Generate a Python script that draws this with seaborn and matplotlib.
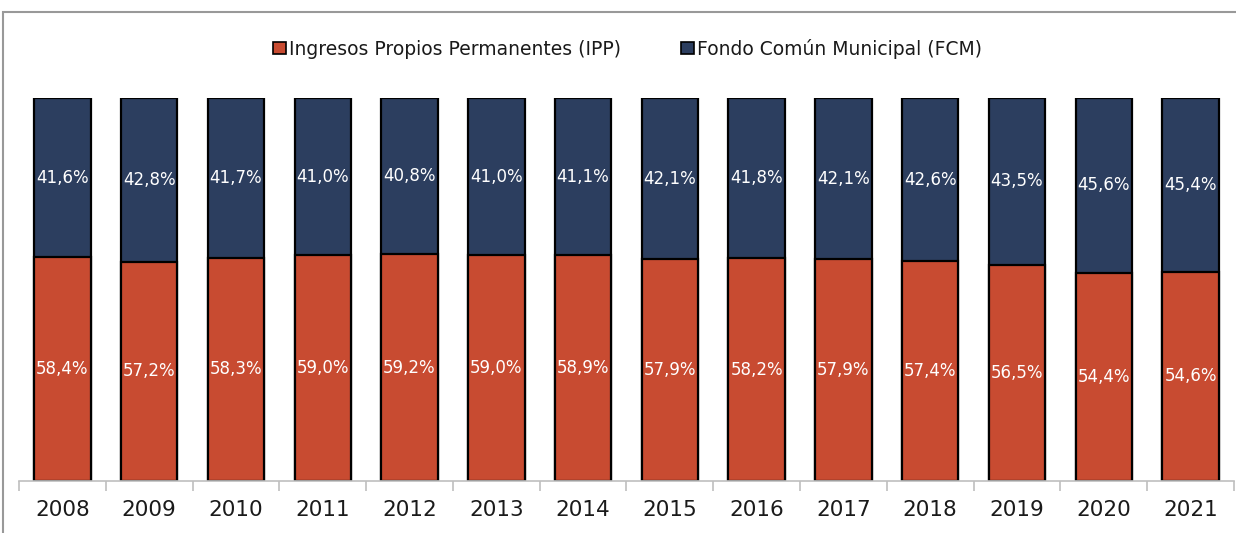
import matplotlib
matplotlib.use("Agg")
import matplotlib.pyplot as plt
from matplotlib.patches import Patch, Rectangle
import seaborn as sns
import pandas as pd

years = ["2008", "2009", "2010", "2011", "2012", "2013", "2014",
         "2015", "2016", "2017", "2018", "2019", "2020", "2021"]
ipp = [58.4, 57.2, 58.3, 59.0, 59.2, 59.0, 58.9, 57.9, 58.2, 57.9, 57.4, 56.5, 54.4, 54.6]
fcm = [41.6, 42.8, 41.7, 41.0, 40.8, 41.0, 41.1, 42.1, 41.8, 42.1, 42.6, 43.5, 45.6, 45.4]
ipp_name = "Ingresos Propios Permanentes (IPP)"
fcm_name = "Fondo Común Municipal (FCM)"

red = "#C84B31"
navy = "#2C3E5F"

df = pd.DataFrame({"year": years, "ipp": ipp, "fcm": fcm})
df["total"] = df["ipp"] + df["fcm"]

sns.set_style("white")
plt.rcParams["font.family"] = ["DejaVu Sans"]

fig = plt.figure(figsize=(12.36, 5.33), dpi=100)
ax = fig.add_axes([19 / 1236, 52 / 533, 1215 / 1236, 383 / 533])

# stacked: full bar in navy, IPP part drawn over it in red
sns.barplot(data=df, x="year", y="total", color=navy, width=0.65,
            edgecolor="black", linewidth=1.6, saturation=1, ax=ax)
sns.barplot(data=df, x="year", y="ipp", color=red, width=0.65,
            edgecolor="black", linewidth=1.6, saturation=1, ax=ax)

fmt = lambda v: f"{v:.1f}%".replace(".", ",")
for i in range(len(years)):
    ax.text(i, ipp[i] / 2, fmt(ipp[i]), ha="center", va="center",
            color="white", fontsize=12)
    ax.text(i, ipp[i] + fcm[i] / 2, fmt(fcm[i]), ha="center", va="center",
            color="white", fontsize=12)

ax.set_ylim(0, 100)
ax.set_xlim(-0.5, len(years) - 0.5)
ax.set_xlabel("")
ax.set_ylabel("")
ax.set_yticks([])
for s in ["top", "right", "left"]:
    ax.spines[s].set_visible(False)
ax.spines["bottom"].set_color("#BFBFBF")
ax.spines["bottom"].set_linewidth(1.2)
ax.tick_params(axis="x", which="major", bottom=True, length=0, labelsize=15.5,
               pad=14, labelcolor="#1a1a1a")
ax.set_xticks([i - 0.5 for i in range(len(years) + 1)], minor=True)
ax.tick_params(axis="x", which="minor", bottom=True, length=7,
               color="#BFBFBF", width=1.2)

handles = [Patch(facecolor=red, edgecolor="black", linewidth=1.2, label=ipp_name),
           Patch(facecolor=navy, edgecolor="black", linewidth=1.2, label=fcm_name)]
fig.legend(handles=handles, loc="center", bbox_to_anchor=(0.508, 0.909), ncol=2,
           frameon=False, fontsize=13.5, handlelength=0.65, handleheight=0.65,
           handletextpad=0.2, columnspacing=3.2, labelcolor="#1a1a1a")

# outer chart frame
fig.patches.append(Rectangle((3 / 1236, -0.1), 1.2, (533 - 12) / 533 + 0.1,
                             transform=fig.transFigure, fill=False,
                             edgecolor="#999999", linewidth=1.5))

fig.savefig("out.png", dpi=100)
